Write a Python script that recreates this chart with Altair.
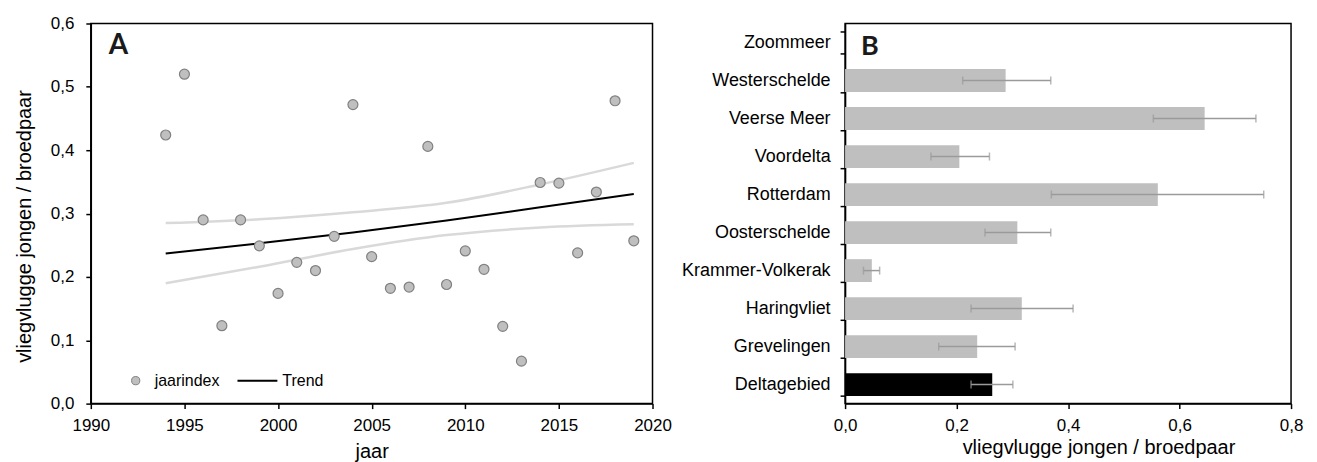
import altair as alt
import pandas as pd

# ---- Panel A data ----
years = list(range(1994, 2020))
jaarindex = [0.424, 0.520, 0.290, 0.123, 0.290, 0.249, 0.174, 0.223, 0.210, 0.264,
             0.472, 0.232, 0.182, 0.184, 0.406, 0.188, 0.241, 0.212, 0.122, 0.067,
             0.349, 0.348, 0.238, 0.334, 0.478, 0.257]
trend_years = [1994, 1999, 2004, 2009, 2014, 2019]
trend = [0.237, 0.253, 0.270, 0.289, 0.310, 0.331]
ci_upper = [0.285, 0.291, 0.302, 0.317, 0.346, 0.380]
ci_lower = [0.190, 0.216, 0.244, 0.266, 0.278, 0.283]

# ---- Panel B data ----
regions = ['Zoommeer', 'Westerschelde', 'Veerse Meer', 'Voordelta', 'Rotterdam',
           'Oosterschelde', 'Krammer-Volkerak', 'Haringvliet', 'Grevelingen', 'Deltagebied']
values = [None, 0.288, 0.645, 0.205, 0.561, 0.309, 0.048, 0.317, 0.237, 0.264]
err_low = [None, 0.211, 0.553, 0.154, 0.370, 0.251, 0.033, 0.226, 0.168, 0.226]
err_high = [None, 0.369, 0.737, 0.259, 0.751, 0.369, 0.062, 0.409, 0.305, 0.301]

FONT = 'Liberation Sans'
YTITLE = 'vliegvlugge jongen / broedpaar'
COMMA = "replace(format(datum.value, '.1f'), '.', ',')"

df_pts = pd.DataFrame({'jaar': years, 'waarde': jaarindex, 'reeks': 'jaarindex'})
df_tr = pd.DataFrame({'jaar': trend_years, 'trend': trend, 'boven': ci_upper,
                      'onder': ci_lower, 'reeks': 'Trend'})
df_bar = pd.DataFrame({'gebied': regions, 'waarde': values, 'laag': err_low, 'hoog': err_high})


def xA(field):
    return alt.X(field, type='quantitative',
                 scale=alt.Scale(domain=[1990, 2020], nice=False, zero=False),
                 axis=alt.Axis(values=[1990, 1995, 2000, 2005, 2010, 2015, 2020], format='d',
                               title='jaar', labelFlush=False, tickSize=5, labelPadding=9,
                               titlePadding=8))


def yA(field):
    return alt.Y(field, type='quantitative',
                 scale=alt.Scale(domain=[0, 0.6], nice=False),
                 axis=alt.Axis(values=[0, 0.1, 0.2, 0.3, 0.4, 0.5, 0.6], labelExpr=COMMA,
                               title=YTITLE, tickSize=5, labelPadding=12, titlePadding=16,
                               titleY=203))


upper = alt.Chart(df_tr).mark_line(color='#d9d9d9', strokeWidth=2.5, interpolate='monotone').encode(
    x=xA('jaar'), y=yA('boven'))
lower = alt.Chart(df_tr).mark_line(color='#d9d9d9', strokeWidth=2.5, interpolate='monotone').encode(
    x=xA('jaar'), y=yA('onder'))
trend_line = alt.Chart(df_tr).mark_line(strokeWidth=2, interpolate='monotone').encode(
    x=xA('jaar'), y=yA('trend'),
    stroke=alt.Stroke('reeks:N', scale=alt.Scale(domain=['Trend'], range=['black']),
                      legend=alt.Legend(orient='none', legendX=146, legendY=337, title=None,
                                        symbolType='stroke', symbolSize=1600,
                                        symbolStrokeWidth=2, labelOffset=4, padding=0,
                                        labelFont=FONT, labelFontSize=16, labelColor='black')))
points = alt.Chart(df_pts).mark_point(filled=True, size=100, shape='circle', stroke='#808080',
                                      strokeWidth=1.2, opacity=1).encode(
    x=xA('jaar'), y=yA('waarde'),
    fill=alt.Fill('reeks:N', scale=alt.Scale(domain=['jaarindex'], range=['#bfbfbf']),
                  legend=alt.Legend(orient='none', legendX=37, legendY=350, title=None,
                                    symbolType='circle', symbolSize=68,
                                    symbolStrokeColor='#808080', symbolStrokeWidth=1,
                                    labelOffset=11, padding=0,
                                    labelFont=FONT, labelFontSize=16, labelColor='black')))
labelA = alt.Chart(pd.DataFrame({'t': ['A']})).mark_text(
    font='Lato', fontWeight='bold', fontSize=28, align='left', baseline='alphabetic',
    color='#1a1a1a').encode(text='t:N', x=alt.value(18), y=alt.value(31))

left = alt.layer(upper, lower, trend_line, points, labelA).properties(width=563, height=381)

# ---- Panel B ----
ysc = alt.Scale(domain=regions, paddingInner=0.4, paddingOuter=0.2)
yB = alt.Y('gebied:N', scale=ysc, sort=None,
           axis=alt.Axis(title=None, tickBand='extent', labelFontSize=18, labelPadding=10,
                         tickSize=5))


def xB(field):
    return alt.X(field, type='quantitative', scale=alt.Scale(domain=[0, 0.8], nice=False),
                 axis=alt.Axis(values=[0, 0.2, 0.4, 0.6, 0.8], labelExpr=COMMA, title=YTITLE,
                               labelFlush=False, tickSize=5, labelPadding=9, titlePadding=4,
                               titleX=254))


bars = alt.Chart(df_bar).mark_bar().encode(
    y=yB, x=xB('waarde'),
    color=alt.condition(alt.datum.gebied == 'Deltagebied', alt.value('black'), alt.value('#bfbfbf')))
err = alt.Chart(df_bar).mark_rule(color='#9a9a9a', strokeWidth=1.5).encode(
    y=yB, x=xB('laag'), x2='hoog:Q')
cap_lo = alt.Chart(df_bar).mark_tick(color='#9a9a9a', thickness=1.5, size=8).encode(
    y=yB, x=xB('laag'))
cap_hi = alt.Chart(df_bar).mark_tick(color='#9a9a9a', thickness=1.5, size=8).encode(
    y=yB, x=xB('hoog'))
labelB = alt.Chart(pd.DataFrame({'t': ['B']})).mark_text(
    font='Lato', fontWeight='bold', fontSize=27, align='left', baseline='alphabetic',
    color='#1a1a1a').encode(text='t:N', x=alt.value(16), y=alt.value(32))

right = alt.layer(bars, err, cap_lo, cap_hi, labelB).properties(width=447, height=381)

chart = alt.hconcat(left, right, spacing=193, bounds='flush').configure_view(
    stroke='black', strokeWidth=1.5
).configure_axis(
    domainColor='black', domainWidth=1.5, tickColor='black', tickWidth=1.5,
    labelColor='black', titleColor='black', labelFont=FONT, titleFont=FONT,
    titleFontWeight='normal', grid=False, labelFontSize=17, titleFontSize=20
).configure_legend(labelFont=FONT, labelFontSize=16, labelColor='black')

chart.save("out.html", embed_options={"renderer": "svg", "actions": False})
